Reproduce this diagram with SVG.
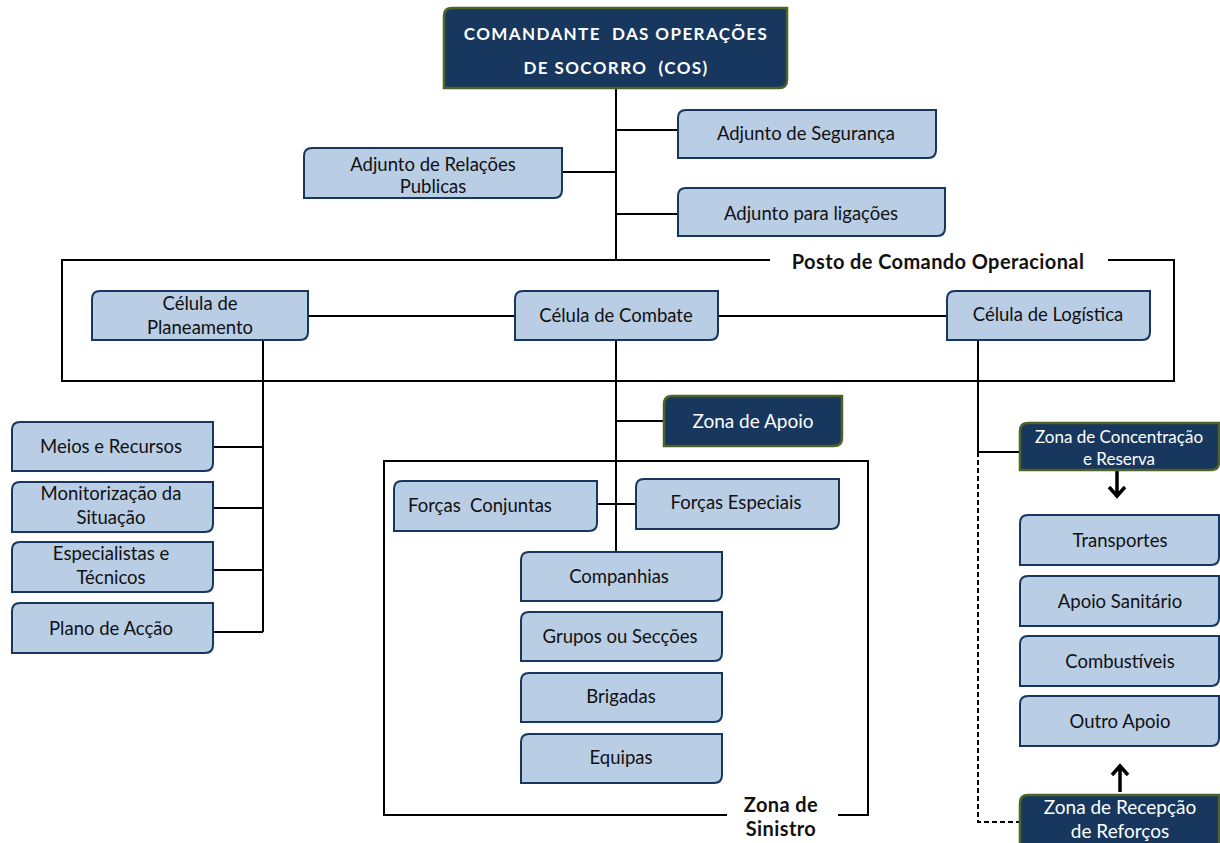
<svg xmlns="http://www.w3.org/2000/svg" width="1220" height="843" viewBox="0 0 1220 843">
<style>
.lb{fill:#B9CDE5;stroke:#17375E;stroke-width:2}
.db{fill:#17375E;stroke:#4F6228;stroke-width:2.5}
.t{font-family:Lato,"Open Sans","Liberation Sans",sans-serif;font-size:18.5px;fill:#111;text-anchor:middle}
.tw{font-family:Lato,"Open Sans","Liberation Sans",sans-serif;font-size:19px;fill:#fff;text-anchor:middle}
.tc{font-family:Lato,"Open Sans","Liberation Sans",sans-serif;font-size:17px;font-weight:bold;letter-spacing:1.4px;fill:#fff;text-anchor:middle}
.tb{font-family:Lato,"Open Sans","Liberation Sans",sans-serif;font-size:20px;font-weight:bold;letter-spacing:0.4px;fill:#111;text-anchor:middle}
.ln{fill:none;stroke:#000;stroke-width:2}
.ds{fill:none;stroke:#000;stroke-width:2;stroke-dasharray:5,3}
.ar{fill:none;stroke:#000;stroke-width:3.5}
</style>
<rect width="1220" height="843" fill="#fff"/>
<g id="connectors">
<path class="ln" d="M616,88 V260 M562,172 H616 M616,130 H678 M616,214 H678"/>
<path class="ln" d="M308,316 H515 M718,316 H947"/>
<path class="ln" d="M263,340 V632 M213,447 H263 M213,508 H263 M213,570 H263 M213,632 H263"/>
<path class="ln" d="M616,340 V552 M616,421 H664 M597,504 H636"/>
<path class="ln" d="M978,340 V452 H1020"/>
<path class="ds" d="M978,452 V822 H1020"/>
<path class="ar" d="M1117,470 V496 M1109,487 L1117,496 L1125,487"/>
<path class="ar" d="M1120,792 V766 M1112,775 L1120,766 L1128,775"/>
</g>
<g id="frames">
<path class="ln" d="M770,260 H62 V381 H1174 V260 H1108"/>
<text class="tb" x="938" y="269">Posto de Comando Operacional</text>
<path class="ln" d="M727,815 H384 V461 H868 V815 H838"/>
<text class="tb" x="781" y="812">Zona de</text>
<text class="tb" x="781" y="836">Sinistro</text>
</g>
<g id="cos">
<path class="db" d="M452,8 H787 V80 Q787,88 779,88 H444 V16 Q444,8 452,8 Z"/>
<text class="tc" x="616" y="40" xml:space="preserve">COMANDANTE  DAS OPERAÇÕES</text>
<text class="tc" x="616" y="74" xml:space="preserve">DE SOCORRO  (COS)</text>
</g>
<g id="adj-seg"><path class="lb" d="M686,110 H936 V150 Q936,158 928,158 H678 V118 Q678,110 686,110 Z"/><text class="t" x="806" y="140">Adjunto de Segurança</text></g>
<g id="adj-rel"><path class="lb" d="M312,148 H562 V190 Q562,198 554,198 H304 V156 Q304,148 312,148 Z"/><text class="t" x="433" y="171">Adjunto de Relações</text><text class="t" x="433" y="193">Publicas</text></g>
<g id="adj-lig"><path class="lb" d="M686,188 H945 V228 Q945,236 937,236 H678 V196 Q678,188 686,188 Z"/><text class="t" x="811" y="220">Adjunto para ligações</text></g>
<g id="cel-plan"><path class="lb" d="M100,291 H308 V332 Q308,340 300,340 H92 V299 Q92,291 100,291 Z"/><text class="t" x="200" y="310">Célula de</text><text class="t" x="200" y="334">Planeamento</text></g>
<g id="cel-comb"><path class="lb" d="M523,291 H718 V332 Q718,340 710,340 H515 V299 Q515,291 523,291 Z"/><text class="t" x="616" y="322">Célula de Combate</text></g>
<g id="cel-log"><path class="lb" d="M955,291 H1150 V332 Q1150,340 1142,340 H947 V299 Q947,291 955,291 Z"/><text class="t" x="1048" y="321">Célula de Logística</text></g>
<g id="meios"><path class="lb" d="M20,422 H213 V463 Q213,471 205,471 H12 V430 Q12,422 20,422 Z"/><text class="t" x="111" y="453">Meios e Recursos</text></g>
<g id="monit"><path class="lb" d="M20,482 H213 V524 Q213,532 205,532 H12 V490 Q12,482 20,482 Z"/><text class="t" x="111" y="500">Monitorização da</text><text class="t" x="111" y="524">Situação</text></g>
<g id="espec"><path class="lb" d="M20,542 H213 V584 Q213,592 205,592 H12 V550 Q12,542 20,542 Z"/><text class="t" x="111" y="560">Especialistas e</text><text class="t" x="111" y="584">Técnicos</text></g>
<g id="plano"><path class="lb" d="M20,603 H213 V645 Q213,653 205,653 H12 V611 Q12,603 20,603 Z"/><text class="t" x="111" y="635">Plano de Acção</text></g>
<g id="zona-apoio"><path class="db" d="M672,396 H842 V438 Q842,446 834,446 H664 V404 Q664,396 672,396 Z"/><text class="tw" x="753" y="428">Zona de Apoio</text></g>
<g id="forcas-conj"><path class="lb" d="M402,481 H597 V523 Q597,531 589,531 H394 V489 Q394,481 402,481 Z"/><text class="t" x="480" y="512" xml:space="preserve">Forças  Conjuntas</text></g>
<g id="forcas-esp"><path class="lb" d="M644,479 H839 V521 Q839,529 831,529 H636 V487 Q636,479 644,479 Z"/><text class="t" x="736" y="509">Forças Especiais</text></g>
<g id="companhias"><path class="lb" d="M529,552 H722 V593 Q722,601 714,601 H521 V560 Q521,552 529,552 Z"/><text class="t" x="619" y="583">Companhias</text></g>
<g id="grupos"><path class="lb" d="M529,612 H722 V653 Q722,661 714,661 H521 V620 Q521,612 529,612 Z"/><text class="t" x="620" y="643">Grupos ou Secções</text></g>
<g id="brigadas"><path class="lb" d="M529,673 H722 V714 Q722,722 714,722 H521 V681 Q521,673 529,673 Z"/><text class="t" x="621" y="703">Brigadas</text></g>
<g id="equipas"><path class="lb" d="M529,734 H722 V775 Q722,783 714,783 H521 V742 Q521,734 529,734 Z"/><text class="t" x="621" y="764">Equipas</text></g>
<g id="zona-conc"><path class="db" d="M1028,423 H1219 V462 Q1219,470 1211,470 H1020 V431 Q1020,423 1028,423 Z"/><text class="tw" style="font-size:17px" x="1119" y="443">Zona de Concentração</text><text class="tw" style="font-size:17px" x="1119" y="465">e Reserva</text></g>
<g id="transportes"><path class="lb" d="M1028,515 H1219 V557 Q1219,565 1211,565 H1020 V523 Q1020,515 1028,515 Z"/><text class="t" x="1120" y="547">Transportes</text></g>
<g id="apoio-san"><path class="lb" d="M1028,576 H1219 V618 Q1219,626 1211,626 H1020 V584 Q1020,576 1028,576 Z"/><text class="t" x="1120" y="608">Apoio Sanitário</text></g>
<g id="combustiveis"><path class="lb" d="M1028,636 H1219 V678 Q1219,686 1211,686 H1020 V644 Q1020,636 1028,636 Z"/><text class="t" x="1120" y="668">Combustíveis</text></g>
<g id="outro-apoio"><path class="lb" d="M1028,696 H1219 V738 Q1219,746 1211,746 H1020 V704 Q1020,696 1028,696 Z"/><text class="t" x="1120" y="728">Outro Apoio</text></g>
<g id="zona-rec"><path class="db" d="M1028,795 H1219 V850 H1020 V803 Q1020,795 1028,795 Z"/><text class="tw" x="1120" y="814">Zona de Recepção</text><text class="tw" x="1120" y="838">de Reforços</text></g>
</svg>
